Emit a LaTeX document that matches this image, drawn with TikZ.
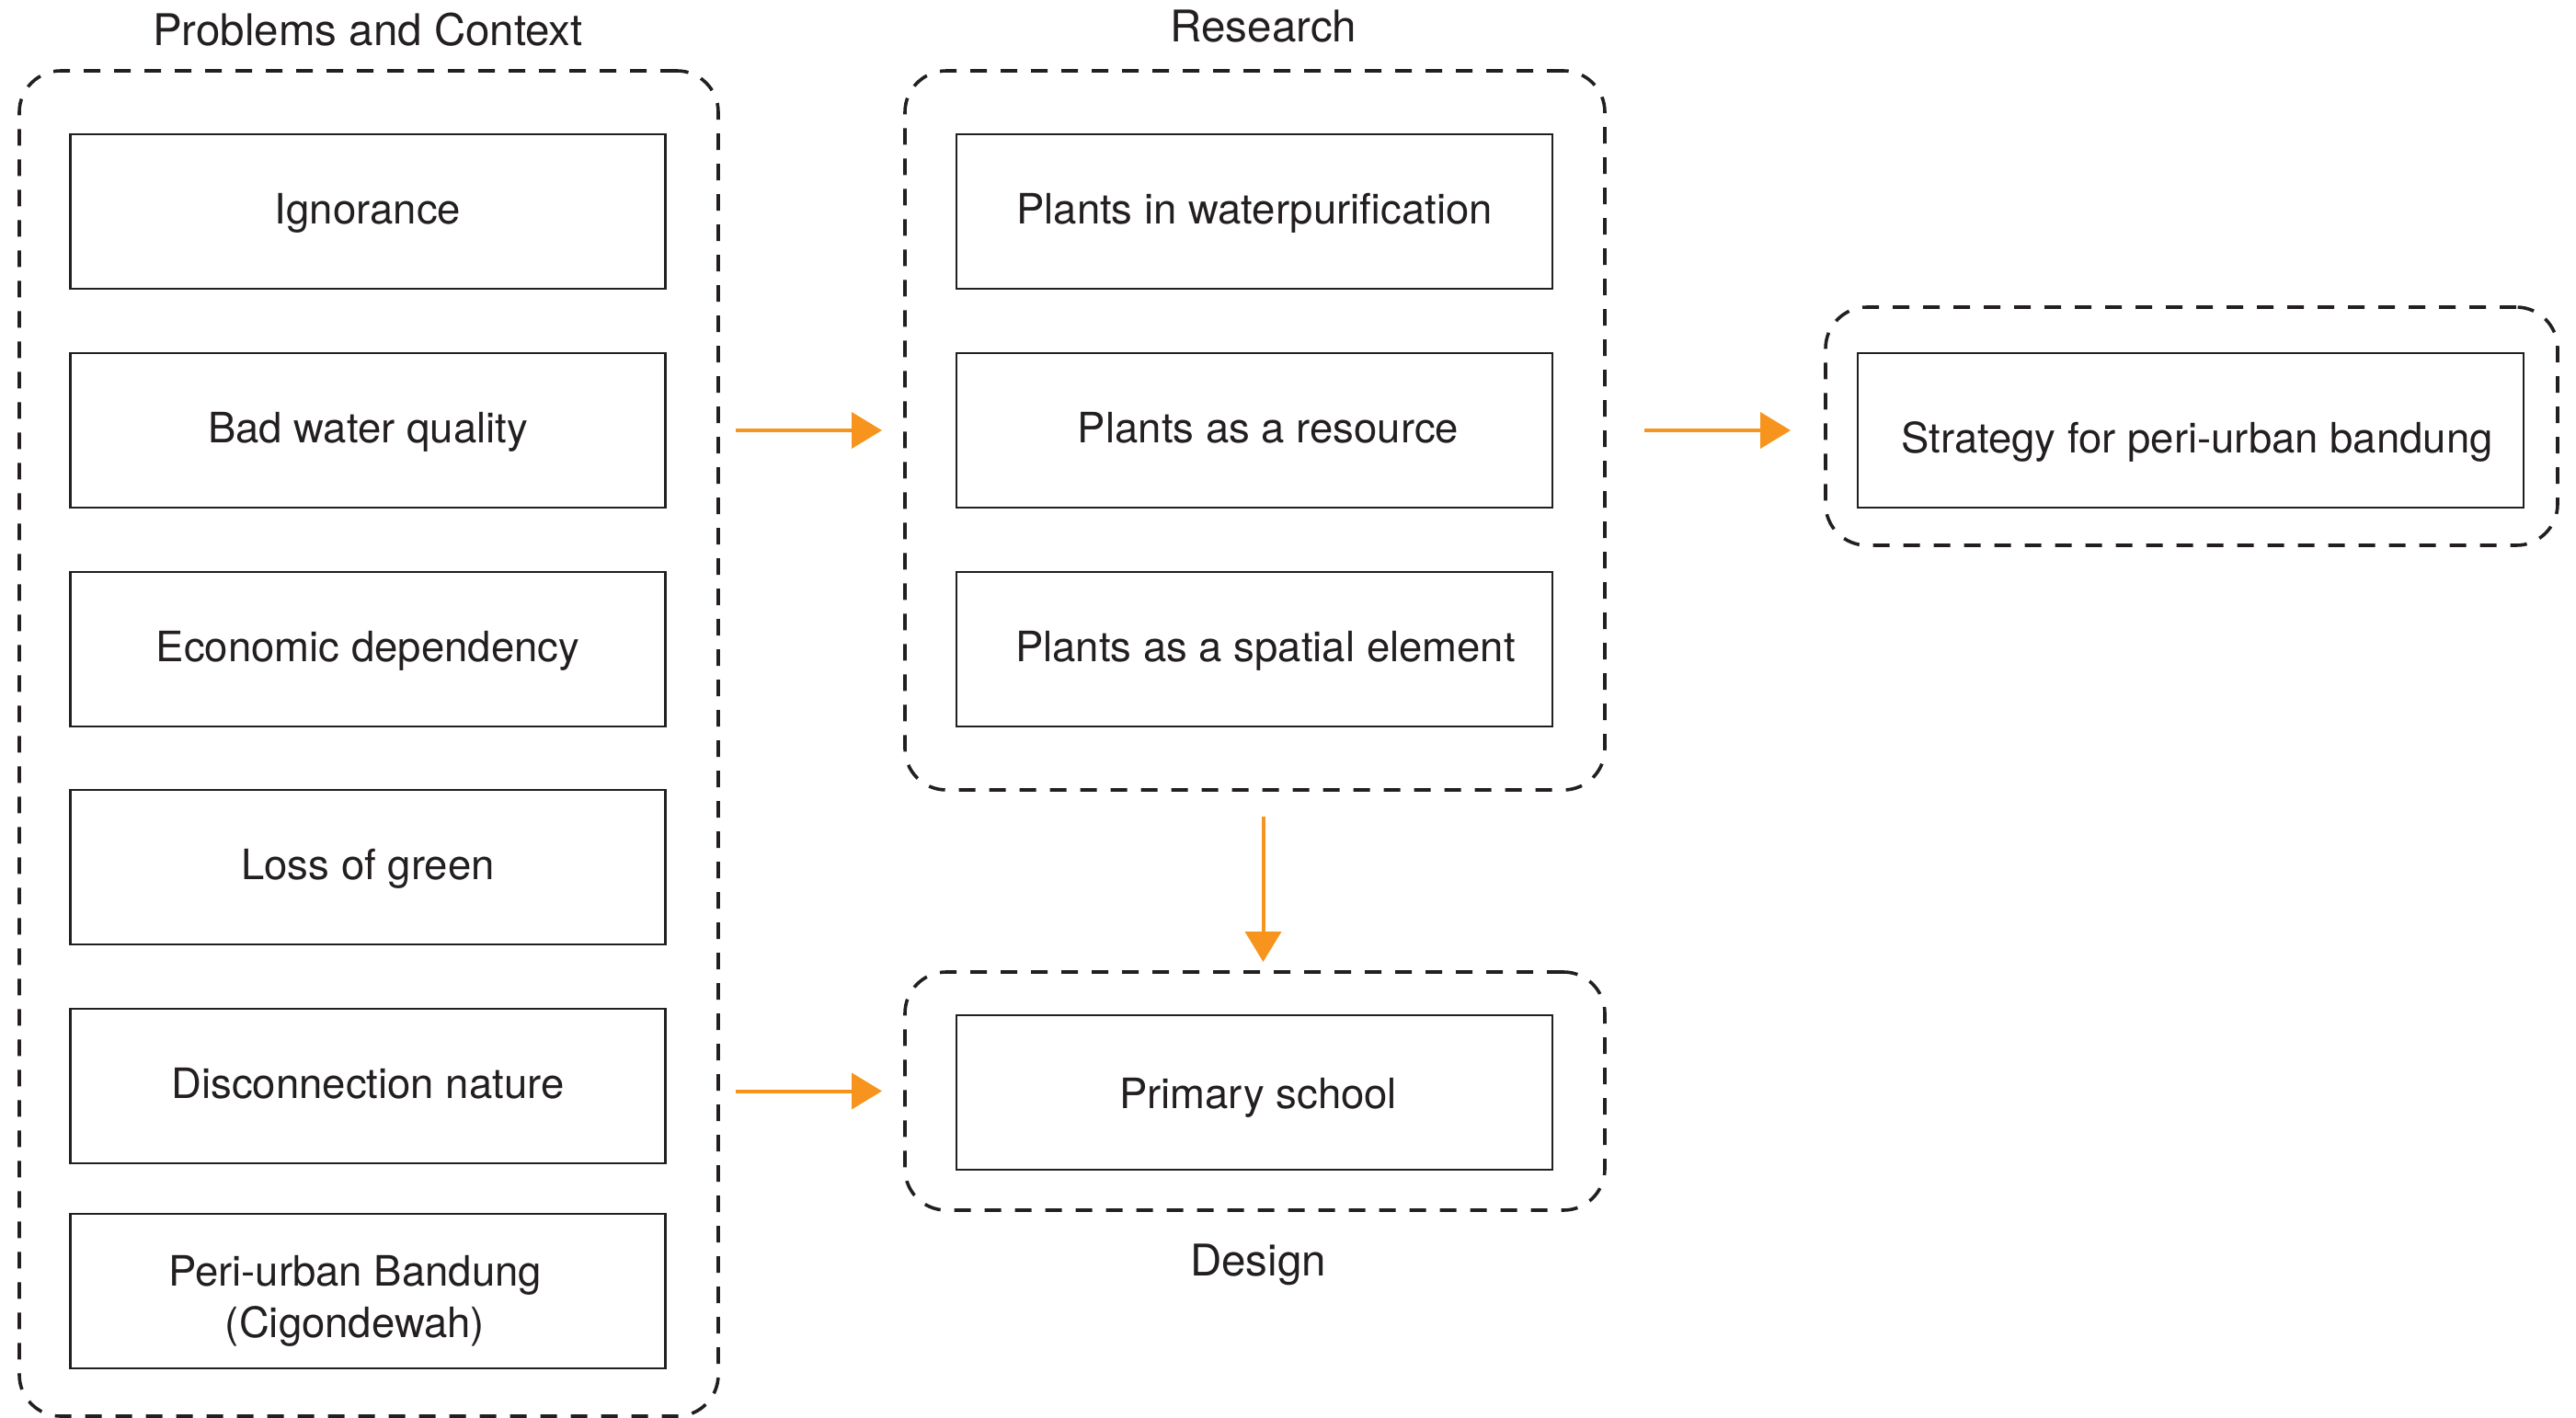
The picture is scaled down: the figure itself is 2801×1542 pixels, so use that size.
\documentclass[tikz,border=0pt]{standalone}
\usepackage{fontspec}
\setmainfont{TeX Gyre Heros}
\usetikzlibrary{arrows.meta}
\definecolor{ink}{HTML}{231F20}
\definecolor{orng}{HTML}{F7941D}
\begin{document}
\begin{tikzpicture}[x=1pt,y=-1pt,
  font=\fontsize{45.5}{56}\selectfont, text=ink,
  box/.style={draw=ink, line width=2.8pt, minimum width=647pt, minimum height=168pt, inner sep=0pt, outer sep=0pt, text height=36pt, text depth=10pt},
  group/.style={draw=ink, line width=3.6pt, dash pattern=on 18pt off 15pt, rounded corners=45pt, inner sep=0pt, outer sep=0pt},
  flow/.style={draw=orng, line width=4pt, -{Triangle[length=33pt,width=39pt]}},
  title/.style={anchor=base, font=\fontsize{47.5}{56}\selectfont}]
\useasboundingbox (0,0) rectangle (2801,1542);
% groups
\node[group, minimum width=760pt, minimum height=1463pt] (pc) at (401,808.5) {};
\node[group, minimum width=761pt, minimum height=782pt] (res) at (1364.5,468) {};
\node[group, minimum width=796pt, minimum height=259pt] (strat) at (2383,463.5) {};
\node[group, minimum width=761pt, minimum height=259pt] (des) at (1364.5,1186.5) {};
% titles
\node[title] (tpc) at (400,49) {Problems and Context};
\node[title] (tres) at (1374,45) {Research};
\node[title] (tdes) at (1368,1387) {Design};
% problem boxes
\node[box] (ig) at (400,230) {Ignorance};
\node[box] (bw) at (400,468) {Bad water quality};
\node[box] (ed) at (400,706) {Economic dependency};
\node[box] (lg) at (400,943) {Loss of green};
\node[box] (dn) at (400,1181) {Disconnection nature};
\node[box] (peri) at (400,1404) {};
\node[align=center, inner sep=0pt] (peritext) at (386,1414.5) {Peri-urban Bandung\\(Cigondewah)};
% research boxes
\node[box, minimum width=648pt] (r1) at (1364,230) {Plants in waterpurification};
\node[box, minimum width=648pt] (r2) at (1364,468) {\hspace*{30pt}Plants as a resource};
\node[box, minimum width=648pt] (r3) at (1364,706) {\hspace*{24pt}Plants as a spatial element};
% design
\node[box, minimum width=648pt, text height=44pt] (ps) at (1364,1188) {\hspace*{8pt}Primary school};
% strategy
\node[box, minimum width=724pt, text height=58pt] (st) at (2382,468) {\hspace*{14pt}Strategy for peri-urban bandung};
% arrows
\draw[flow, shorten <=19pt, shorten >=25pt] (pc.east |- bw.center) -- (res.west |- bw.center);
\draw[flow, shorten <=19pt, shorten >=25pt] (pc.east |- des.center) -- (des.west);
\draw[flow, shorten <=43pt, shorten >=38pt] (res.east |- bw.center) -- (strat.west |- bw.center);
\draw[flow, shorten <=29pt, shorten >=11pt] ([xshift=9pt]res.south) -- ([xshift=9pt]des.north);
\end{tikzpicture}
\end{document}
